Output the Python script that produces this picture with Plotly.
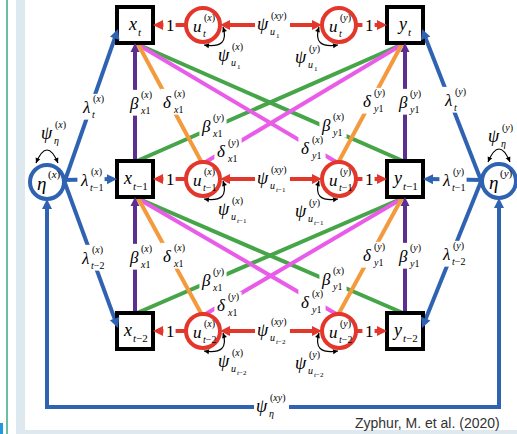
import re
import plotly.graph_objects as go

W, H = 517, 434
SERIF = "Liberation Serif"

# ---------------- data: path-diagram layout ----------------
row_y = [25, 179, 331]                      # rows t, t-1, t-2
row_sub = ["<i>t</i>", "<i>t</i>−1", "<i>t</i>−2"]
psi_u_subsub = ["1", "<i>t</i>−1", "<i>t</i>−2"]
col_x, col_ux, col_uy, col_y = 135, 203, 339, 405
eta_x = (47, 182)
eta_y = (499, 181)
bottom_y = 407
box_half = 18
r_u = 17
r_eta = 17
citation = "Zyphur, M. et al. (2020)"

C = {
    "blue": "#2f63b2",
    "red": "#e4372b",
    "purple": "#5b2f8f",
    "orange": "#f39a3c",
    "green": "#46a548",
    "magenta": "#e95ce9",
}

shapes_bg, shapes_nodes, shapes_heads, annotations = [], [], [], []
segs = {k: [] for k in C}


def seg(color, pts):
    segs[color].append(pts)


def tri(color, tip, frm, L=10, hw=5):
    dx, dy = tip[0] - frm[0], tip[1] - frm[1]
    n = (dx * dx + dy * dy) ** 0.5
    ux, uy = dx / n, dy / n
    bx, by = tip[0] - ux * L, tip[1] - uy * L
    p1 = (bx - uy * hw, by + ux * hw)
    p2 = (bx + uy * hw, by - ux * hw)
    shapes_heads.append(dict(type="path", xref="x", yref="y",
                             path=f"M {tip[0]:.2f},{tip[1]:.2f} L {p1[0]:.2f},{p1[1]:.2f} L {p2[0]:.2f},{p2[1]:.2f} Z",
                             fillcolor=color, line=dict(width=0), layer="above"))
    return (tip[0] - ux * L * 0.6, tip[1] - uy * L * 0.6)


def arrow(color, frm, tip, L=10, hw=5):
    end = tri(C[color], tip, frm, L, hw)
    seg(color, [frm, end])


def plain(s):
    return re.sub(r"<[^>]+>", "", s)


def txt(x, y, text, size, anchor="left"):
    annotations.append(dict(x=x, y=y, text=text, showarrow=False, xanchor=anchor, yanchor="middle",
                            font=dict(family=SERIF, size=size, color="black")))


def mlabel(x, y, base, sup=None, sub=None, size=16, ssize=10, hw=None, bg=False,
           italic=True, subsub=None):
    if hw is None:
        hw = 0.27 * size
    txt(x, y, (f"<i>{base}</i>" if italic else base), size, "center")
    sw = 0
    if sup:
        txt(x + hw, y - 0.45 * size, sup, ssize)
        sw = max(sw, len(plain(sup)) * 0.5 * ssize)
    if sub:
        sx, sy = x + hw - 1, y + 0.42 * size
        txt(sx, sy, sub, ssize)
        w = len(plain(sub)) * 0.5 * ssize
        if subsub:
            txt(sx + 0.55 * ssize, sy + 4, subsub, 7)
            w += len(plain(subsub)) * 3.5
        sw = max(sw, w)
    if bg:
        y0 = y - 0.45 * size - 0.55 * ssize if sup else y - 0.55 * size
        y1 = y + 0.42 * size + 0.55 * ssize + (3 if subsub else 0) if sub else y + 0.55 * size
        shapes_bg.append(dict(type="rect", xref="x", yref="y", x0=x - hw - 2, x1=x + hw + sw + 1,
                              y0=y0, y1=y1, fillcolor="white", line=dict(width=0), layer="above"))


# ---------------- colored cross-lag paths ----------------
for k in (0, 1):
    top, bot = row_y[k], row_y[k + 1]
    tb = top + box_half        # bottom edge of upper boxes
    bt = bot - box_half        # top edge of lower boxes
    ut = bot - r_u             # top of lower circles
    for cx in (col_x, col_y):
        arrow("purple", (cx, bt), (cx, tb), L=9, hw=4.5)
    seg("green", [(col_x + 2, bt), (col_y - 2, tb + 1)])
    seg("green", [(col_y - 2, bt), (col_x + 2, tb + 1)])
    seg("magenta", [(col_ux + 1, ut + 1), (col_y - 2, tb + 1)])
    seg("magenta", [(col_uy - 1, ut + 1), (col_x + 2, tb + 1)])
    seg("orange", [(col_ux - 1, ut + 1), (col_x + 3, tb + 1)])
    seg("orange", [(col_uy - 1, ut + 1), (col_y - 3, tb + 1)])

    mlabel(col_x - 1, top + 78, "β", "(<i>x</i>)", "<i>x</i>1", size=17, bg=True)
    mlabel(col_x + 32, top + 77, "δ", "(<i>x</i>)", "<i>x</i>1", size=17, bg=True)
    mlabel(206, top + 101, "β", "(<i>y</i>)", "<i>x</i>1", size=17, bg=True)
    mlabel(221, top + 126, "δ", "(<i>y</i>)", "<i>x</i>1", size=17, bg=True)
    mlabel(326, top + 100, "β", "(<i>x</i>)", "<i>y</i>1", size=17, bg=True)
    mlabel(305, top + 123, "δ", "(<i>x</i>)", "<i>y</i>1", size=17, bg=True)
    mlabel(col_y - 38, top + 76, "δ", "(<i>y</i>)", "<i>y</i>1", size=17, bg=True)
    mlabel(col_y - 2, top + 77, "β", "(<i>y</i>)", "<i>y</i>1", size=17, bg=True)

# ---------------- blue latent paths ----------------
ex, ey = eta_x
fx, fy = eta_y
for i, yy in enumerate(row_y):
    if i == 1:
        arrow("blue", (ex + r_eta, yy + 1), (col_x - box_half, yy))
        arrow("blue", (fx - r_eta, yy + 1), (col_y + box_half, yy))
    else:
        sgn = 1 if i == 0 else -1
        ty = yy + 4 if i == 0 else yy - 3
        arrow("blue", (ex + 15, ey + 7 * sgn), (col_x - box_half + 1, ty))
        arrow("blue", (fx - 15, fy + 7 * sgn), (col_y + box_half - 1, ty))

seg("blue", [(ex, ey + r_eta + 8), (ex, bottom_y), (fx, bottom_y), (fx, fy + r_eta + 8)])
tri(C["blue"], (ex, ey + r_eta), (ex, bottom_y))
tri(C["blue"], (fx, fy + r_eta), (fx, bottom_y))

mlabel(86, 107, "λ", "(<i>x</i>)", row_sub[0], size=17, bg=True)
mlabel(84, 180, "λ", "(<i>x</i>)", row_sub[1], size=17, bg=True)
mlabel(85, 258, "λ", "(<i>x</i>)", row_sub[2], size=17, bg=True)
mlabel(448, 100, "λ", "(<i>y</i>)", row_sub[0], size=17, bg=True)
mlabel(446, 180, "λ", "(<i>y</i>)", row_sub[1], size=17, bg=True)
mlabel(446, 254, "λ", "(<i>y</i>)", row_sub[2], size=17, bg=True)
mlabel(262, bottom_y - 1, "ψ", "(<i>xy</i>)", "<i>η</i>", size=18, hw=6, bg=True)
mlabel(47, 133, "ψ", "(<i>x</i>)", "<i>η</i>", size=18, hw=6)
mlabel(494, 136, "ψ", "(<i>y</i>)", "<i>η</i>", size=18, hw=6)

# ---------------- red residual paths ----------------
for i, yy in enumerate(row_y):
    arrow("red", (col_ux - r_u, yy), (col_x + box_half, yy))
    arrow("red", (col_uy + r_u, yy), (col_y - box_half, yy))
    seg("red", [(col_ux + r_u + 6, yy), (col_uy - r_u - 6, yy)])
    tri(C["red"], (col_ux + r_u, yy), (col_uy, yy))
    tri(C["red"], (col_uy - r_u, yy), (col_ux, yy))
    mlabel(170, yy, "1", size=17, italic=False, bg=True)
    mlabel(369, yy, "1", size=17, italic=False, bg=True)
    mlabel(263, yy - 1, "ψ", "(<i>xy</i>)", "<i>u</i>", size=18, hw=6, bg=True, subsub=psi_u_subsub[i])
    mlabel(col_ux + 21, yy + 30, "ψ", "(<i>x</i>)", "<i>u</i>", size=18, hw=6, subsub=psi_u_subsub[i])
    mlabel(col_uy - 38, yy + 32, "ψ", "(<i>y</i>)", "<i>u</i>", size=18, hw=6, subsub=psi_u_subsub[i])

# ---------------- nodes ----------------
for i, yy in enumerate(row_y):
    for cx, name in ((col_x, "x"), (col_y, "y")):
        shapes_nodes.append(dict(type="rect", xref="x", yref="y", x0=cx - box_half, x1=cx + box_half,
                                 y0=yy - box_half, y1=yy + box_half, fillcolor="white",
                                 line=dict(color="black", width=4), layer="above"))
        shift = 3 if i == 0 else 8
        mlabel(cx - shift, yy - 1, name, None, row_sub[i], size=18, ssize=11)
    for cx, nm in ((col_ux, "(<i>x</i>)"), (col_uy, "(<i>y</i>)")):
        shapes_nodes.append(dict(type="circle", xref="x", yref="y", x0=cx - r_u, x1=cx + r_u,
                                 y0=yy - r_u, y1=yy + r_u, fillcolor="white",
                                 line=dict(color=C["red"], width=4), layer="above"))
        mlabel(cx - 6, yy + 1, "u", nm, row_sub[i], size=17, ssize=10)

for (cx, cy), nm in ((eta_x, "(<i>x</i>)"), (eta_y, "(<i>y</i>)")):
    shapes_nodes.append(dict(type="circle", xref="x", yref="y", x0=cx - r_eta, x1=cx + r_eta,
                             y0=cy - r_eta, y1=cy + r_eta, fillcolor="white",
                             line=dict(color=C["blue"], width=4), layer="above"))
    mlabel(cx - 6, cy + 1, "η", nm, None, size=19, ssize=11)

# ---------------- self-loop variance arrows ----------------
loops = []
for yy in row_y:
    loops.append(((col_ux + 1, yy + r_u + 3), (col_ux + 27, yy + 24), (col_ux + r_u + 3, yy + 2)))
    loops.append(((col_uy - 1, yy + r_u + 3), (col_uy - 27, yy + 24), (col_uy - r_u - 3, yy + 2)))
for cx, cy in (eta_x, eta_y):
    loops.append(((cx - 11, cy - r_eta - 2), (cx, cy - r_eta - 28), (cx + 11, cy - r_eta - 2)))

for a, b, c in loops:
    shapes_nodes.append(dict(type="path", xref="x", yref="y",
                             path=f"M {a[0]},{a[1]} Q {b[0]},{b[1]} {c[0]},{c[1]}",
                             line=dict(color="black", width=1.2), layer="above"))
    tri("black", a, b, L=5, hw=2.5)
    tri("black", c, b, L=5, hw=2.5)

# ---------------- page decoration ----------------
deco = [
    dict(type="rect", xref="x", yref="y", x0=16, x1=25, y0=0, y1=H, fillcolor="#dde8ef",
         line=dict(width=0), layer="below"),
    dict(type="rect", xref="x", yref="y", x0=16, x1=W, y0=430, y1=H, fillcolor="#dde8ef",
         line=dict(width=0), layer="below"),
    dict(type="line", xref="x", yref="y", x0=7, x1=7, y0=0, y1=H,
         line=dict(color="#3aa887", width=1.5), layer="below"),
    dict(type="rect", xref="x", yref="y", x0=0, x1=3, y0=423, y1=H, fillcolor="#1e9be0",
         line=dict(width=0), layer="below"),
]

annotations.append(dict(x=502, y=423, text=citation, showarrow=False, xanchor="right",
                        yanchor="middle", font=dict(family="Liberation Sans", size=14, color="#333333")))

fig = go.Figure()
order = ["green", "magenta", "orange", "purple", "blue", "red"]
for color in order:
    xs, ys = [], []
    for pts in segs[color]:
        xs += [p[0] for p in pts] + [None]
        ys += [p[1] for p in pts] + [None]
    fig.add_trace(go.Scatter(x=xs, y=ys, mode="lines", line=dict(color=C[color], width=4),
                             hoverinfo="skip", showlegend=False))

fig.update_layout(
    width=W, height=H, margin=dict(l=0, r=0, t=0, b=0),
    paper_bgcolor="white", plot_bgcolor="white", showlegend=False,
    xaxis=dict(range=[0, W], visible=False, fixedrange=True),
    yaxis=dict(range=[H, 0], visible=False, fixedrange=True),
    shapes=deco + shapes_bg + shapes_nodes + shapes_heads,
    annotations=annotations,
)
fig.write_html("out.html", config={"displayModeBar": False},
               post_script="document.body.style.margin='0';document.body.style.overflow='hidden';")
